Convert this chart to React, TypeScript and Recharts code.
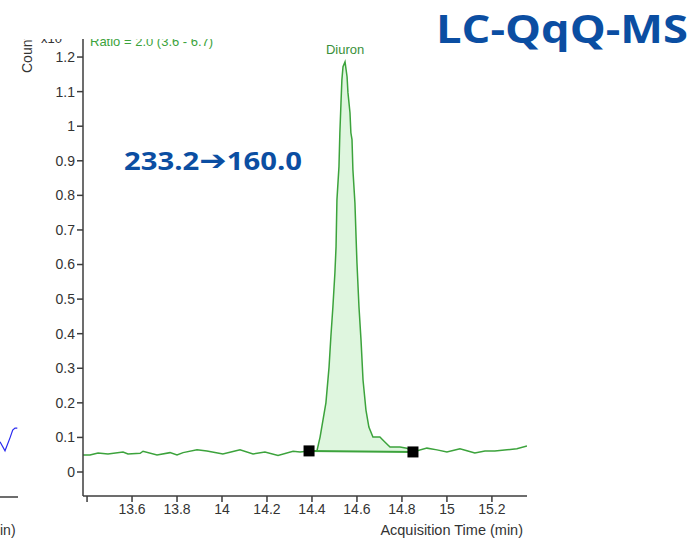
import React from "react";
import {
  ComposedChart,
  LineChart,
  Line,
  Area,
  Scatter,
  XAxis,
  YAxis,
  ReferenceDot,
} from "recharts";

// Acquisition time (min) and abundance (x10^6 counts) of the 233.2 -> 160.0 transition
const traceTimes = [
  13.382, 13.413, 13.449, 13.493, 13.56, 13.582, 13.636, 13.649, 13.711, 13.769,
  13.8, 13.827, 13.889, 13.933, 14.004, 14.08, 14.138, 14.191, 14.249, 14.316,
  14.347, 14.387, 14.422, 14.436, 14.462, 14.476, 14.484, 14.493, 14.502, 14.507,
  14.511, 14.52, 14.524, 14.529, 14.533, 14.538, 14.547, 14.556, 14.56, 14.569,
  14.573, 14.578, 14.582, 14.591, 14.596, 14.6, 14.609, 14.618, 14.627, 14.64,
  14.653, 14.671, 14.702, 14.724, 14.747, 14.791, 14.822, 14.849, 14.911, 14.956,
  15.0, 15.058, 15.093, 15.124, 15.169, 15.213, 15.267, 15.311, 15.356,
];
const traceCounts = [
  0.049, 0.049, 0.055, 0.052, 0.058, 0.052, 0.054, 0.06, 0.049, 0.056,
  0.049, 0.056, 0.064, 0.061, 0.052, 0.064, 0.052, 0.058, 0.048, 0.06,
  0.058, 0.061, 0.061, 0.101, 0.2, 0.304, 0.391, 0.477, 0.576, 0.651,
  0.787, 0.883, 0.981, 1.068, 1.134, 1.172, 1.186, 1.143, 1.097, 1.039,
  0.981, 0.961, 0.874, 0.778, 0.68, 0.605, 0.477, 0.382, 0.266, 0.179,
  0.13, 0.101, 0.101, 0.087, 0.072, 0.072, 0.069, 0.058, 0.069, 0.064,
  0.058, 0.067, 0.061, 0.055, 0.061, 0.061, 0.064, 0.067, 0.075,
];

// Integration start / end points of the Diuron peak
const integrationTimes = [14.387, 14.849];
const integrationCounts = [0.061, 0.058];

const peakName = "Diuron";
const apexTime = 14.547;
const apexCount = 1.186;

const xTicks = [13.4, 13.6, 13.8, 14, 14.2, 14.4, 14.6, 14.8, 15, 15.2];
const yTicks = [0, 0.1, 0.2, 0.3, 0.4, 0.5, 0.6, 0.7, 0.8, 0.9, 1, 1.1, 1.2];

// Neighbouring chromatogram (only its right edge is in view)
const sideTimes = [15.27, 15.295, 15.32, 15.3335, 15.345, 15.3565];
const sideCounts = [0.088, 0.062, 0.099, 0.121, 0.127, 0.127];

const GREEN = "#3ca33c";
const FILL = "#dff6df";
const AXIS = "#3c3c3c";
const TEXT = "#333333";
const BLUE = "#0b4ea2";
const FONT = "'Liberation Sans', Arial, sans-serif";

const trace = traceTimes.map((t, i) => ({ t, v: traceCounts[i] }));
const markers = integrationTimes.map((t, i) => ({ t, v: integrationCounts[i] }));

const [t0, t1] = integrationTimes;
const [b0, b1] = integrationCounts;
const peakArea = trace
  .filter((p) => p.t >= t0 && p.t <= t1)
  .map((p) => ({
    t: p.t,
    range: [b0 + ((p.t - t0) / (t1 - t0)) * (b1 - b0), p.v],
  }));

const side = sideTimes.map((t, i) => ({ t, v: sideCounts[i] }));

const fmtX = (v: number) => (Math.abs(v - 13.4) < 1e-6 ? "" : String(+v.toFixed(1)));
const fmtY = (v: number) => String(+v.toFixed(1));

const SquareMarker = (props: any) => {
  const { cx, cy } = props;
  if (cx == null || cy == null) return null;
  return <rect x={cx - 5.5} y={cy - 5.5} width={11} height={11} fill="#000" />;
};

export default function App() {
  return (
    <div
      style={{
        position: "absolute",
        left: 0,
        top: 0,
        width: 695,
        height: 539,
        background: "#fff",
        overflow: "hidden",
        fontFamily: FONT,
      }}
    >
      <ComposedChart
        width={695}
        height={539}
        margin={{ top: 39, right: 168, bottom: 13, left: 23 }}
        style={{ fontFamily: FONT }}
      >
        <XAxis
          dataKey="t"
          type="number"
          domain={[13.382, 15.356]}
          allowDataOverflow
          ticks={xTicks}
          tickFormatter={fmtX}
          height={30}
          axisLine={{ stroke: AXIS, strokeWidth: 1.5 }}
          tickLine={{ stroke: AXIS, strokeWidth: 1.5 }}
          tickSize={6}
          tick={{ fill: TEXT, fontSize: 14 }}
          interval={0}
        />
        <YAxis
          dataKey="v"
          type="number"
          domain={[-0.0694, 1.2522]}
          allowDataOverflow
          ticks={yTicks}
          tickFormatter={fmtY}
          width={60}
          axisLine={{ stroke: AXIS, strokeWidth: 1.5 }}
          tickLine={{ stroke: AXIS, strokeWidth: 1.5 }}
          tickSize={6}
          tick={{ fill: TEXT, fontSize: 14 }}
          interval={0}
        />
        <Area
          data={peakArea}
          dataKey="range"
          type="linear"
          stroke="none"
          fill={FILL}
          fillOpacity={1}
          isAnimationActive={false}
        />
        <Line
          data={trace}
          dataKey="v"
          type="linear"
          stroke={GREEN}
          strokeWidth={1.5}
          dot={false}
          isAnimationActive={false}
        />
        <Line
          data={markers}
          dataKey="v"
          type="linear"
          stroke={GREEN}
          strokeWidth={2}
          dot={false}
          isAnimationActive={false}
        />
        <Scatter
          data={markers}
          dataKey="v"
          shape={SquareMarker}
          isAnimationActive={false}
        />
        <ReferenceDot
          x={apexTime}
          y={apexCount}
          r={0}
          fill="none"
          stroke="none"
          label={{
            value: peakName,
            position: "top",
            offset: 8,
            fill: "#3a8f3a",
            fontSize: 13,
          }}
        />
      </ComposedChart>

      <div style={{ position: "absolute", left: 0, top: 420 }}>
        <LineChart width={18} height={78} margin={{ top: 0, right: 0, bottom: 0, left: 0 }}>
          <XAxis
            dataKey="t"
            type="number"
            domain={[15.27, 15.36]}
            allowDataOverflow
            height={1}
            tick={false}
            tickLine={false}
            axisLine={{ stroke: AXIS, strokeWidth: 1.5 }}
          />
          <YAxis hide type="number" domain={[-0.07, 0.15]} allowDataOverflow />
          <Line
            data={side}
            dataKey="v"
            type="linear"
            stroke="#2a2af0"
            strokeWidth={1.2}
            dot={false}
            isAnimationActive={false}
          />
        </LineChart>
      </div>

      <svg
        width={695}
        height={539}
        style={{ position: "absolute", left: 0, top: 0, pointerEvents: "none" }}
      >
        <defs>
          <clipPath id="frameClip">
            <rect x={0} y={39} width={430} height={500} />
          </clipPath>
        </defs>
        <g clipPath="url(#frameClip)" fontFamily={FONT}>
          <text x={32} y={73} fontSize={14} fill={TEXT} transform="rotate(-90 32 73)">
            Counts
          </text>
          <text x={41} y={43} fontSize={13} fill={TEXT}>
            x10
          </text>
          <text x={90} y={46} fontSize={13} fill={GREEN}>
            Ratio = 2.0 (3.6 - 6.7)
          </text>
        </g>
        <text x={523} y={535} fontSize={14.5} fill={TEXT} textAnchor="end" fontFamily={FONT}>
          Acquisition Time (min)
        </text>
        <text x={0} y={535} fontSize={14} fill={TEXT} fontFamily={FONT}>
          in)
        </text>
        <text
          x={124}
          y={170}
          fontSize={25}
          fontWeight={700}
          fill={BLUE}
          fontFamily="'Open Sans', 'DejaVu Sans', sans-serif"
          textLength={178}
          lengthAdjust="spacingAndGlyphs"
        >
          233.2<tspan fontFamily="'DejaVu Sans', sans-serif" fontSize={28}>➔</tspan>160.0
        </text>
        <text
          x={436}
          y={43}
          fontSize={40}
          fontWeight={700}
          fill={BLUE}
          fontFamily="'Open Sans', sans-serif"
          textLength={252}
          lengthAdjust="spacingAndGlyphs"
        >
          LC-QqQ-MS
        </text>
      </svg>
    </div>
  );
}
